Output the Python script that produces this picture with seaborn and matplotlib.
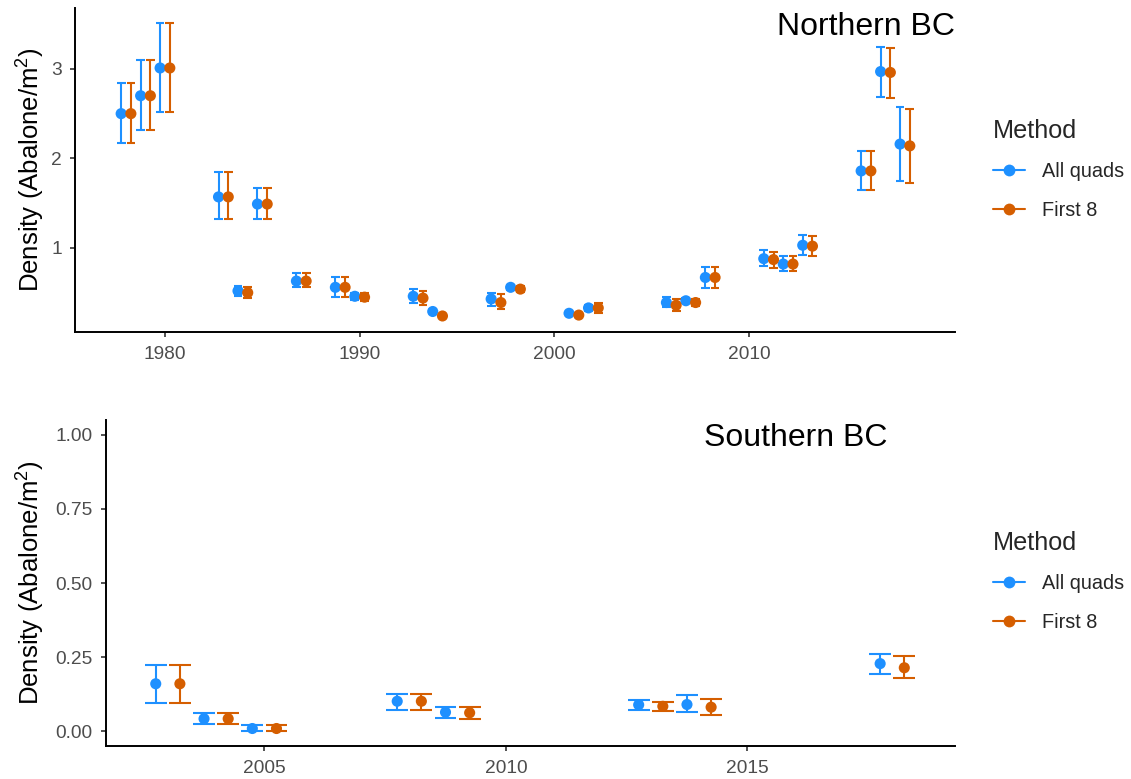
import numpy as np
import pandas as pd
import matplotlib
matplotlib.use("Agg")
import matplotlib.pyplot as plt
from matplotlib.lines import Line2D
from matplotlib.transforms import offset_copy
import seaborn as sns

# ---- survey densities (abalone per m^2) with interval bounds ----
north_year = [1978, 1979, 1980, 1983, 1984, 1985, 1987, 1989, 1990, 1993, 1994, 1997,
              1998, 2001, 2002, 2006, 2007, 2008, 2011, 2012, 2013, 2016, 2017, 2018]
north_all = [2.50, 2.70, 3.01, 1.57, 0.52, 1.49, 0.63, 0.56, 0.46, 0.46, 0.29, 0.43,
             0.56, 0.27, 0.33, 0.39, 0.41, 0.67, 0.88, 0.82, 1.03, 1.86, 2.97, 2.16]
north_all_lo = [2.17, 2.32, 2.52, 1.32, 0.46, 1.32, 0.56, 0.45, 0.42, 0.39, 0.27, 0.35,
                0.53, 0.25, 0.30, 0.34, 0.38, 0.55, 0.80, 0.74, 0.92, 1.65, 2.69, 1.75]
north_all_hi = [2.84, 3.10, 3.51, 1.85, 0.58, 1.67, 0.72, 0.67, 0.50, 0.54, 0.31, 0.50,
                0.59, 0.29, 0.36, 0.45, 0.44, 0.79, 0.98, 0.91, 1.15, 2.08, 3.24, 2.57]
north_f8 = [2.50, 2.70, 3.01, 1.57, 0.50, 1.49, 0.63, 0.56, 0.45, 0.44, 0.24, 0.39,
            0.54, 0.25, 0.33, 0.36, 0.39, 0.67, 0.87, 0.82, 1.02, 1.86, 2.96, 2.14]
north_f8_lo = [2.17, 2.32, 2.52, 1.32, 0.44, 1.32, 0.56, 0.45, 0.41, 0.36, 0.22, 0.32,
               0.51, 0.23, 0.27, 0.30, 0.35, 0.55, 0.78, 0.74, 0.91, 1.65, 2.68, 1.73]
north_f8_hi = [2.84, 3.10, 3.51, 1.85, 0.56, 1.67, 0.72, 0.67, 0.50, 0.52, 0.26, 0.48,
               0.57, 0.27, 0.38, 0.43, 0.43, 0.79, 0.96, 0.91, 1.13, 2.08, 3.23, 2.55]

south_year = [2003, 2004, 2005, 2008, 2009, 2013, 2014, 2018]
south_all = [0.160, 0.042, 0.009, 0.101, 0.064, 0.089, 0.090, 0.228]
south_all_lo = [0.096, 0.023, 0.000, 0.073, 0.045, 0.073, 0.064, 0.194]
south_all_hi = [0.223, 0.062, 0.020, 0.127, 0.082, 0.105, 0.121, 0.262]
south_f8 = [0.160, 0.042, 0.009, 0.101, 0.062, 0.084, 0.081, 0.214]
south_f8_lo = [0.096, 0.023, 0.000, 0.073, 0.042, 0.068, 0.053, 0.179]
south_f8_hi = [0.223, 0.062, 0.020, 0.127, 0.080, 0.100, 0.107, 0.253]

methods = ["All quads", "First 8"]
palette = {"All quads": "#1E90FF", "First 8": "#D55E00"}
dodge = {"All quads": -0.25, "First 8": 0.25}
cap_half = 0.225


def long_frame(years, a, a_lo, a_hi, f, f_lo, f_hi):
    parts = []
    for m, v, lo, hi in [("All quads", a, a_lo, a_hi), ("First 8", f, f_lo, f_hi)]:
        d = pd.DataFrame({"Year": years, "Density": v, "lo": lo, "hi": hi})
        d["Method"] = m
        d["xpos"] = d["Year"] + dodge[m]
        parts.append(d)
    return pd.concat(parts, ignore_index=True)


north = long_frame(north_year, north_all, north_all_lo, north_all_hi,
                   north_f8, north_f8_lo, north_f8_hi)
south = long_frame(south_year, south_all, south_all_lo, south_all_hi,
                   south_f8, south_f8_lo, south_f8_hi)

sns.set_style("ticks")
plt.rcParams["font.family"] = ["Liberation Sans", "DejaVu Sans"]
plt.rcParams["mathtext.fontset"] = "custom"
plt.rcParams["mathtext.rm"] = "Liberation Sans"
plt.rcParams["mathtext.it"] = "Liberation Sans"

W, H = 1131, 779
fig = plt.figure(figsize=(W / 100, H / 100), dpi=100)
fig.patch.set_facecolor("white")


def px_axes(left, top, right, bottom):
    return fig.add_axes([left / W, 1 - bottom / H, (right - left) / W, (bottom - top) / H])


ax1 = px_axes(75, 8, 955, 332)
ax2 = px_axes(106, 420, 955, 746)

tick_color = "#4D4D4D"


def draw_panel(ax, df, title, title_xy, xlim, ylim, yticks, yfmt):
    for m in methods:
        d = df[df["Method"] == m]
        ax.vlines(d["xpos"], d["lo"], d["hi"], color=palette[m], lw=1.5, zorder=2)
        ax.hlines(d["lo"], d["xpos"] - cap_half, d["xpos"] + cap_half,
                  color=palette[m], lw=1.5, zorder=2)
        ax.hlines(d["hi"], d["xpos"] - cap_half, d["xpos"] + cap_half,
                  color=palette[m], lw=1.5, zorder=2)
    sns.scatterplot(data=df, x="xpos", y="Density", hue="Method", hue_order=methods,
                    palette=palette, s=64, linewidth=0, legend=False, ax=ax, zorder=3)
    ax.set_xlim(*xlim)
    ax.set_ylim(*ylim)
    ax.set_yticks(yticks)
    ax.set_yticklabels([yfmt.format(v) for v in yticks])
    ax.set_xlabel("")
    ax.set_ylabel("Density (Abalone/m$^2$)", fontsize=18.5, color="black")
    pos = ax.get_position()
    ax.yaxis.set_label_coords(47 / W, pos.y0 + pos.height / 2, transform=fig.transFigure)
    for side in ["top", "right"]:
        ax.spines[side].set_visible(False)
    for side in ["left", "bottom"]:
        ax.spines[side].set_linewidth(1.4)
        ax.spines[side].set_color("black")
    ax.tick_params(axis="both", colors="#333333", length=3.5, width=1.2,
                   labelsize=13.8, labelcolor=tick_color)
    ax.tick_params(axis="x", pad=6.5)
    ax.tick_params(axis="y", pad=6)
    ax.text(title_xy[0], title_xy[1], title, fontsize=23, ha="center", va="center",
            color="black", transform=offset_copy(ax.transData, fig=fig, y=-3, units="dots"))
    ax.set_facecolor("white")


draw_panel(ax1, north, "Northern BC", (2016, 3.5), (1975.38, 2020.57), (0.061, 3.68),
           [1, 2, 3], "{:g}")
ax1.set_xticks([1980, 1990, 2000, 2010])
draw_panel(ax2, south, "Southern BC", (2016, 1.0), (2001.72, 2019.3), (-0.05, 1.05),
           [0, 0.25, 0.5, 0.75, 1.0], "{:.2f}")
ax2.set_xticks([2005, 2010, 2015])

handles = [Line2D([0], [0], color=palette[m], lw=1.5, marker="o", markersize=8.5,
                  markeredgewidth=0) for m in methods]
for ytop in [118.5, 530.5]:
    fig.legend(handles, methods, title="Method", loc="upper left",
               bbox_to_anchor=(993 / W, 1 - ytop / H), frameon=False, borderpad=0,
               borderaxespad=0, fontsize=14.3, title_fontsize=18.2, handlelength=1.6,
               labelspacing=1.0, alignment="left", handletextpad=0.85)

fig.savefig("out.png", dpi=100, facecolor="white")
